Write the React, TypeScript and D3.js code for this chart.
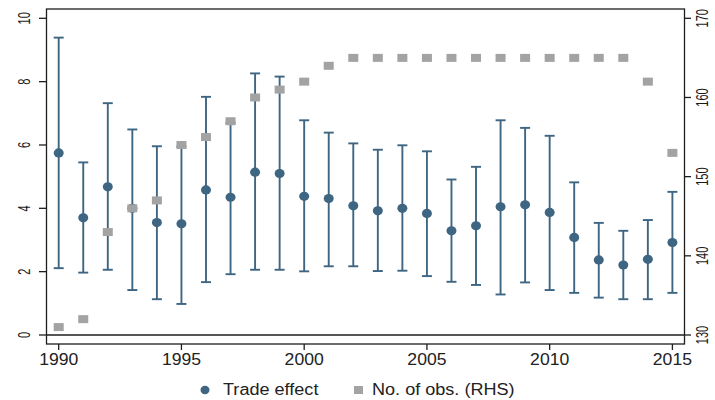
import React from "react";
import * as d3 from "d3";

const years = [1990,1991,1992,1993,1994,1995,1996,1997,1998,1999,2000,2001,2002,2003,2004,2005,2006,2007,2008,2009,2010,2011,2012,2013,2014,2015];
const tradeEffect = [5.75,3.70,4.68,4.00,3.55,3.51,4.58,4.35,5.14,5.10,4.38,4.31,4.08,3.92,4.00,3.84,3.29,3.45,4.05,4.11,3.87,3.08,2.37,2.21,2.39,2.92];
const upperCI = [9.39,5.45,7.32,6.49,5.96,5.95,7.52,6.70,8.26,8.16,6.78,6.39,6.05,5.85,5.99,5.80,4.91,5.31,6.78,6.54,6.29,4.82,3.54,3.29,3.63,4.52];
const lowerCI = [2.11,1.97,2.06,1.42,1.13,0.98,1.67,1.92,2.06,2.06,2.01,2.17,2.17,2.02,2.03,1.86,1.68,1.58,1.28,1.66,1.42,1.33,1.18,1.13,1.13,1.33];
const numObs = [131,132,143,146,147,154,155,157,160,161,162,164,165,165,165,165,165,165,165,165,165,165,165,165,162,153];
const xTicks = [1990,1995,2000,2005,2010,2015];
const leftTicks = [0,2,4,6,8,10];
const rightTicks = [130,140,150,160,170];

const BLUE = "#3e6582";
const GRAY = "#a3a3a3";
const AXIS = "#1e1e1e";
const FONT = "'Liberation Sans', Arial, sans-serif";

export default function App() {
  const W = 715, H = 400;
  const left = 46.5, right = 684.5, top = 9, bottom = 344;
  const x = d3.scaleLinear().domain([1990, 2015]).range([58.7, 672.4]);
  const yL = d3.scaleLinear().domain([0, 10]).range([335, 18.3]);
  const yR = d3.scaleLinear().domain([130, 170]).range([335, 18.3]);
  const cap = 5;

  return (
    <svg width={W} height={H} style={{ position: "absolute", left: 0, top: 0, background: "#fff" }} fontFamily={FONT}>
      {/* zero line */}
      <line x1={left} x2={right} y1={yL(0)} y2={yL(0)} stroke={AXIS} strokeWidth={1.3} />
      {/* frame */}
      <rect x={left} y={top} width={right - left} height={bottom - top} fill="none" stroke={AXIS} strokeWidth={1.3} />
      {/* left ticks */}
      {leftTicks.map((t) => (
        <g key={"l" + t}>
          <line x1={39} x2={left} y1={yL(t)} y2={yL(t)} stroke={AXIS} strokeWidth={1.3} />
          <g transform={`translate(24,${yL(t)}) scale(1.45,1) rotate(-90)`}>
            <text textAnchor="middle" dy="0.36em" fontSize={11} fill="#1a1a1a">{t}</text>
          </g>
        </g>
      ))}
      {/* right ticks */}
      {rightTicks.map((t) => (
        <g key={"r" + t}>
          <line x1={right} x2={691} y1={yR(t)} y2={yR(t)} stroke={AXIS} strokeWidth={1.3} />
          <g transform={`translate(702,${yR(t)}) scale(1.45,1) rotate(-90)`}>
            <text textAnchor="middle" dy="0.36em" fontSize={11} fill="#1a1a1a">{t}</text>
          </g>
        </g>
      ))}
      {/* x ticks */}
      {xTicks.map((t) => (
        <g key={"x" + t}>
          <line x1={x(t)} x2={x(t)} y1={bottom} y2={bottom + 6} stroke={AXIS} strokeWidth={1.3} />
          <g transform={`translate(${x(t)},365) scale(1.1,1)`}>
            <text textAnchor="middle" fontSize={16} fill="#222">{t}</text>
          </g>
        </g>
      ))}
      {/* error bars */}
      {years.map((yr, i) => (
        <g key={"e" + yr} stroke={BLUE} strokeWidth={1.9}>
          <line x1={x(yr)} x2={x(yr)} y1={yL(upperCI[i])} y2={yL(lowerCI[i])} />
          <line x1={x(yr) - cap} x2={x(yr) + cap} y1={yL(upperCI[i])} y2={yL(upperCI[i])} />
          <line x1={x(yr) - cap} x2={x(yr) + cap} y1={yL(lowerCI[i])} y2={yL(lowerCI[i])} />
        </g>
      ))}
      {/* points */}
      {years.map((yr, i) => (
        <ellipse key={"p" + yr} cx={x(yr)} cy={yL(tradeEffect[i])} rx={5} ry={4.6} fill={BLUE} />
      ))}
      {/* squares (RHS), drawn on top */}
      {years.map((yr, i) => (
        <rect key={"s" + yr} x={x(yr) - 5} y={yR(numObs[i]) - 4} width={10} height={8} fill={GRAY} />
      ))}
      {/* legend */}
      <ellipse cx={205} cy={390} rx={4.5} ry={4.2} fill={BLUE} />
      <g transform="translate(223,395) scale(1.13,1)">
        <text fontSize={16} fill="#222">Trade effect</text>
      </g>
      <rect x={354} y={386} width={9} height={8} fill={GRAY} />
      <g transform="translate(372,395) scale(1.13,1)">
        <text fontSize={16} fill="#222">No. of obs. (RHS)</text>
      </g>
    </svg>
  );
}
